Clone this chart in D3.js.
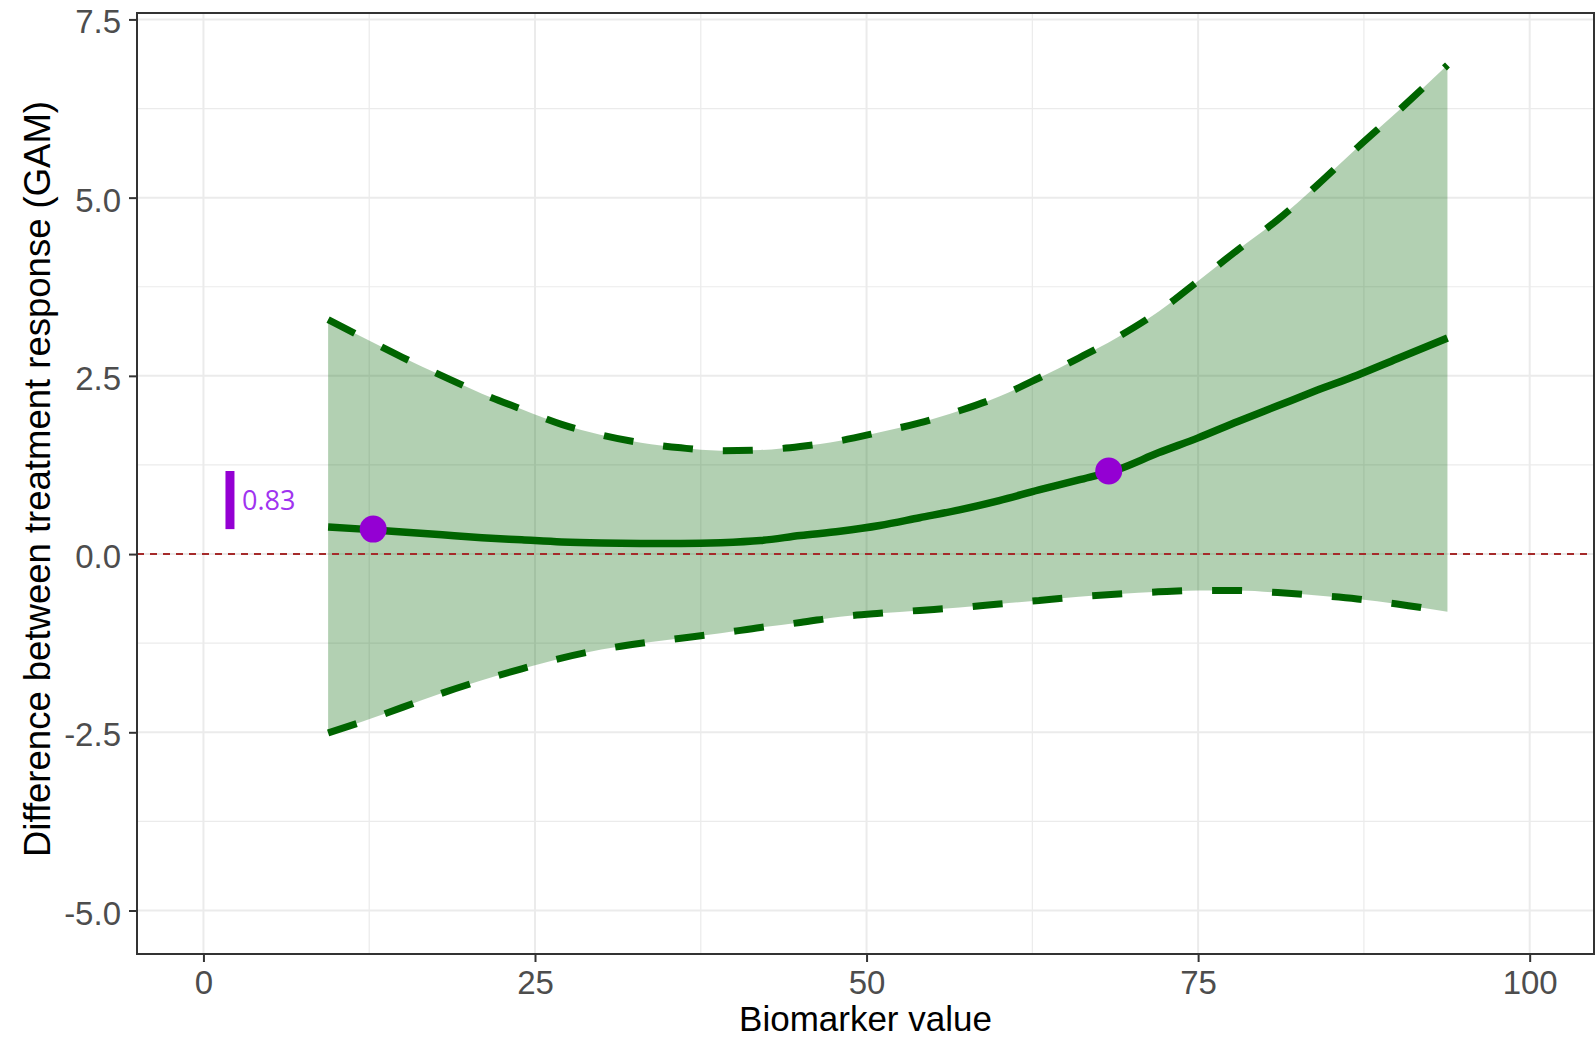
<!DOCTYPE html>
<html>
<head>
<meta charset="utf-8">
<script src="https://cdn.jsdelivr.net/npm/d3@7"></script>
<style>
  body { margin: 0; background: #fff; }
  svg { display: block; }
</style>
</head>
<body>
<div id="chart"></div>
<script>
// GAM curve for the treatment difference
var biomarker = [9.4, 12, 15, 18, 21, 24, 27, 30, 33, 36, 39, 42, 45, 48, 51, 54, 57, 60, 63, 66, 69, 72, 75, 78, 81, 84, 87, 90, 93.8];
var fitValues = [0.38, 0.35, 0.31, 0.27, 0.23, 0.20, 0.17, 0.155, 0.15, 0.15, 0.16, 0.19, 0.26, 0.32, 0.40, 0.51, 0.62, 0.75, 0.90, 1.04, 1.19, 1.42, 1.63, 1.86, 2.08, 2.30, 2.51, 2.74, 3.03];
var upperValues = [3.29, 3.04, 2.76, 2.50, 2.25, 2.03, 1.82, 1.67, 1.56, 1.49, 1.45, 1.46, 1.51, 1.59, 1.71, 1.84, 2.01, 2.21, 2.47, 2.75, 3.05, 3.40, 3.83, 4.27, 4.69, 5.18, 5.70, 6.20, 6.86];
var lowerValues = [-2.51, -2.35, -2.15, -1.95, -1.77, -1.61, -1.46, -1.34, -1.25, -1.18, -1.11, -1.03, -0.96, -0.88, -0.83, -0.79, -0.75, -0.70, -0.65, -0.60, -0.56, -0.53, -0.51, -0.51, -0.54, -0.58, -0.63, -0.70, -0.81];
// the two marked points and the gap between them
var markX = [12.8, 68.26];
var markY = [0.35, 1.165];
var gapX = 2;
var gapLabel = "0.83";
// ticks
var xTicks = [0, 25, 50, 75, 100];
var xMinor = [12.5, 37.5, 62.5, 87.5];
var yTicks = [-5, -2.5, 0, 2.5, 5, 7.5];
var yMinor = [-3.75, -1.25, 1.25, 3.75, 6.25];

var width = 1595, height = 1043,
	panelL = 137, panelR = 1594, panelT = 13, panelB = 954;

var svg = d3.select("#chart").append("svg")
	.attr("width", width)
	.attr("height", height);

var x = d3.scaleLinear().domain([-5.01, 104.85]).range([panelL, panelR]);
var y = d3.scaleLinear().domain([-5.61, 7.59]).range([panelB, panelT]);

var rows = biomarker.map(function(b, i){
	return {x: b, fit: fitValues[i], lo: lowerValues[i], hi: upperValues[i]};
});

svg.append("clipPath").attr("id", "panel")
	.append("rect")
	.attr("x", panelL).attr("y", panelT)
	.attr("width", panelR - panelL).attr("height", panelB - panelT);

// grid
var grid = svg.append("g");
grid.selectAll("line.xmin").data(xMinor).enter().append("line")
	.attr("x1", x).attr("x2", x).attr("y1", panelT).attr("y2", panelB)
	.attr("stroke", "#ebebeb").attr("stroke-width", 1.2);
grid.selectAll("line.ymin").data(yMinor).enter().append("line")
	.attr("y1", y).attr("y2", y).attr("x1", panelL).attr("x2", panelR)
	.attr("stroke", "#ebebeb").attr("stroke-width", 1.2);
grid.selectAll("line.xmaj").data(xTicks).enter().append("line")
	.attr("x1", x).attr("x2", x).attr("y1", panelT).attr("y2", panelB)
	.attr("stroke", "#ebebeb").attr("stroke-width", 2);
grid.selectAll("line.ymaj").data(yTicks).enter().append("line")
	.attr("y1", y).attr("y2", y).attr("x1", panelL).attr("x2", panelR)
	.attr("stroke", "#ebebeb").attr("stroke-width", 2);

var plot = svg.append("g").attr("clip-path", "url(#panel)");

// confidence band
var band = d3.area()
	.x(function(d){ return x(d.x); })
	.y0(function(d){ return y(d.lo); })
	.y1(function(d){ return y(d.hi); })
	.curve(d3.curveMonotoneX);
plot.append("path").datum(rows)
	.attr("d", band)
	.attr("fill", "#006400")
	.attr("fill-opacity", 0.3);

// zero line
plot.append("line")
	.attr("x1", panelL).attr("x2", panelR)
	.attr("y1", y(0)).attr("y2", y(0))
	.attr("stroke", "#a52a2a")
	.attr("stroke-width", 2)
	.attr("stroke-dasharray", "7,6");

function curveOf(key){
	return d3.line()
		.x(function(d){ return x(d.x); })
		.y(function(d){ return y(d[key]); })
		.curve(d3.curveMonotoneX);
}

["hi", "lo"].forEach(function(key){
	plot.append("path").datum(rows)
		.attr("d", curveOf(key))
		.attr("fill", "none")
		.attr("stroke", "#006400")
		.attr("stroke-width", 7)
		.attr("stroke-dasharray", "30,30");
});

plot.append("path").datum(rows)
	.attr("d", curveOf("fit"))
	.attr("fill", "none")
	.attr("stroke", "#006400")
	.attr("stroke-width", 7.5);

// the marked points
plot.selectAll("circle").data(markX).enter().append("circle")
	.attr("cx", function(d){ return x(d); })
	.attr("cy", function(d, i){ return y(markY[i]); })
	.attr("r", 13.5)
	.attr("fill", "#9400d3");

// gap bar + label
plot.append("line")
	.attr("x1", x(gapX)).attr("x2", x(gapX))
	.attr("y1", y(markY[0])).attr("y2", y(markY[1]))
	.attr("stroke", "#9400d3")
	.attr("stroke-width", 9);
plot.append("text")
	.attr("x", x(gapX) + 12)
	.attr("y", y((markY[0] + markY[1]) / 2) + 10)
	.attr("font-family", "'Open Sans', sans-serif")
	.attr("font-size", 27)
	.attr("fill", "#a033f0")
	.text(gapLabel);

// panel border
svg.append("rect")
	.attr("x", panelL).attr("y", panelT)
	.attr("width", panelR - panelL).attr("height", panelB - panelT)
	.attr("fill", "none")
	.attr("stroke", "#333333")
	.attr("stroke-width", 2);

// axes
var xAxis = svg.append("g")
	.attr("transform", "translate(0," + panelB + ")")
	.call(d3.axisBottom(x).tickValues(xTicks).tickSize(8).tickPadding(6).tickFormat(d3.format("d")));
var yAxis = svg.append("g")
	.attr("transform", "translate(" + panelL + ",0)")
	.call(d3.axisLeft(y).tickValues(yTicks).tickSize(8).tickPadding(8).tickFormat(d3.format(".1f")));

[xAxis, yAxis].forEach(function(ax){
	ax.select(".domain").remove();
	ax.selectAll(".tick line").attr("stroke", "#333333").attr("stroke-width", 2);
	ax.selectAll(".tick text")
		.attr("fill", "#4d4d4d")
		.attr("font-family", "'Liberation Sans', Arial, sans-serif")
		.attr("font-size", 33);
});
xAxis.selectAll(".tick text").attr("dy", null).attr("y", 40);
yAxis.selectAll(".tick text").attr("dy", null).attr("y", 13.5).attr("x", -16)
	.text(function(d){ return d3.format(".1f")(d).replace("\u2212", "-"); });

// titles
svg.append("text")
	.attr("x", (panelL + panelR) / 2)
	.attr("y", 1031)
	.attr("text-anchor", "middle")
	.attr("font-family", "'Liberation Sans', Arial, sans-serif")
	.attr("font-size", 35)
	.attr("fill", "#000")
	.text("Biomarker value");

svg.append("text")
	.attr("transform", "translate(50,479) rotate(-90)")
	.attr("text-anchor", "middle")
	.attr("font-family", "'Liberation Sans', Arial, sans-serif")
	.attr("font-size", 36.5)
	.attr("fill", "#000")
	.text("Difference between treatment response (GAM)");
</script>
</body>
</html>
